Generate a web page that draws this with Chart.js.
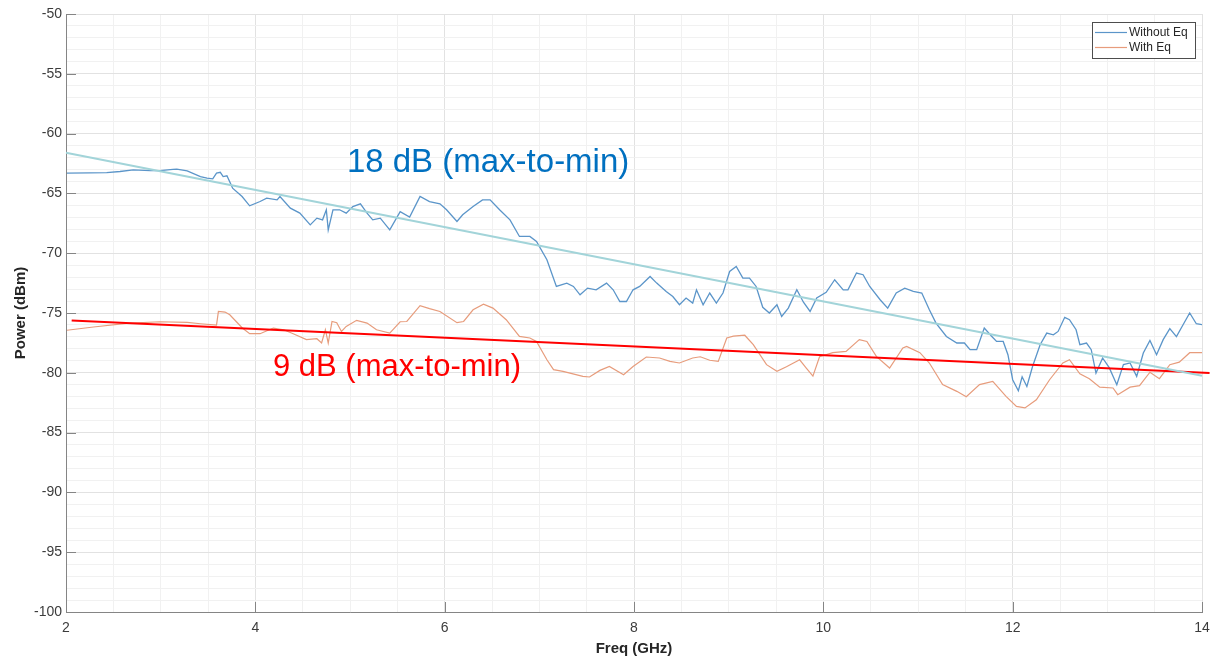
<!DOCTYPE html>
<html>
<head>
<meta charset="utf-8">
<title>Power vs Frequency</title>
<script src="https://cdn.jsdelivr.net/npm/chart.js@4.4.1/dist/chart.umd.min.js"></script>
<style>
  html, body { margin: 0; padding: 0; background: #ffffff; }
  #wrap { width: 1224px; height: 661px; }
</style>
</head>
<body>
<div id="wrap"><canvas id="c" width="1224" height="661"></canvas></div>
<script>
// Measured spectrum without equalization (GHz, dBm)
const freqWithoutEq = [2.01,2.25,2.43,2.57,2.71,2.89,2.99,3.13,3.17,3.28,
  3.42,3.49,3.55,3.59,3.63,3.66,3.70,3.76,3.86,3.94,
  4.05,4.12,4.23,4.26,4.37,4.47,4.58,4.65,4.71,4.75,
  4.77,4.82,4.89,4.96,5.03,5.11,5.18,5.24,5.32,5.42,
  5.53,5.63,5.74,5.84,5.95,6.02,6.13,6.19,6.30,6.40,
  6.48,6.58,6.69,6.79,6.90,6.97,7.08,7.18,7.29,7.36,
  7.43,7.51,7.60,7.71,7.78,7.85,7.92,7.99,8.06,8.17,
  8.24,8.34,8.41,8.48,8.55,8.62,8.66,8.73,8.80,8.87,
  8.94,9.01,9.08,9.15,9.22,9.29,9.36,9.43,9.51,9.56,
  9.63,9.72,9.79,9.86,9.93,10.03,10.12,10.21,10.26,10.35,
  10.42,10.49,10.60,10.68,10.77,10.86,10.95,11.04,11.12,11.19,
  11.30,11.41,11.49,11.55,11.62,11.70,11.78,11.83,11.90,11.95,
  12.00,12.06,12.10,12.15,12.21,12.29,12.36,12.43,12.48,12.55,
  12.60,12.67,12.71,12.78,12.83,12.88,12.95,13.02,13.10,13.17,
  13.24,13.31,13.38,13.45,13.52,13.59,13.66,13.73,13.80,13.87,
  13.94,14.00];
const powerWithoutEq = [-63.31,-63.28,-63.26,-63.17,-63.03,-63.09,-63.09,-62.99,-62.97,-63.12,
  -63.59,-63.73,-63.78,-63.31,-63.24,-63.59,-63.53,-64.56,-65.26,-66.04,
  -65.68,-65.40,-65.54,-65.26,-66.23,-66.65,-67.63,-67.07,-67.21,-66.37,
  -68.05,-66.37,-66.37,-66.65,-66.10,-65.87,-66.65,-67.21,-67.07,-68.05,
  -66.52,-66.98,-65.26,-65.68,-65.87,-66.37,-67.35,-66.79,-66.10,-65.54,
  -65.54,-66.37,-67.21,-68.60,-68.60,-69.02,-70.55,-72.78,-72.50,-72.78,
  -73.48,-72.92,-73.06,-72.50,-73.06,-74.04,-74.04,-73.06,-72.78,-71.95,
  -72.50,-73.20,-73.62,-74.31,-73.75,-74.17,-73.06,-74.31,-73.33,-74.17,
  -73.33,-71.53,-71.11,-72.08,-72.08,-72.78,-74.52,-75.00,-74.31,-75.29,
  -74.59,-73.06,-74.10,-74.87,-73.75,-73.27,-72.22,-73.06,-73.06,-71.66,
  -71.80,-72.78,-73.89,-74.59,-73.33,-72.92,-73.20,-73.33,-74.73,-75.84,
  -76.96,-77.51,-77.51,-78.07,-78.07,-76.26,-76.96,-77.38,-77.38,-78.49,
  -80.58,-81.50,-80.33,-81.14,-79.47,-77.65,-76.68,-76.82,-76.54,-75.36,
  -75.56,-76.40,-77.65,-77.51,-78.07,-80.02,-78.76,-79.57,-80.99,-79.32,
  -79.18,-80.30,-78.35,-77.30,-78.49,-77.23,-76.30,-76.98,-75.98,-75.00,
  -75.90,-75.98];

// Measured spectrum with equalization (GHz, dBm)
const freqWithEq = [2.01,2.29,2.64,2.99,3.28,3.42,3.59,3.61,3.68,3.73,
  3.80,3.86,3.94,4.05,4.19,4.30,4.40,4.54,4.65,4.70,
  4.74,4.77,4.81,4.86,4.91,4.96,5.07,5.18,5.28,5.42,
  5.53,5.60,5.74,5.84,5.95,6.13,6.20,6.30,6.41,6.51,
  6.65,6.79,6.90,6.97,7.08,7.15,7.25,7.46,7.53,7.64,
  7.74,7.89,7.99,8.13,8.27,8.38,8.48,8.62,8.70,8.80,
  8.89,8.98,9.05,9.17,9.26,9.40,9.51,9.61,9.75,9.82,
  9.89,9.96,10.10,10.24,10.38,10.46,10.56,10.70,10.84,10.88,
  11.02,11.12,11.26,11.41,11.51,11.65,11.79,11.93,12.04,12.13,
  12.25,12.39,12.53,12.60,12.71,12.81,12.92,13.06,13.11,13.24,
  13.34,13.45,13.55,13.66,13.76,13.87,14.00];
const powerWithEq = [-76.44,-76.17,-75.86,-75.73,-75.79,-75.90,-76.02,-74.87,-74.92,-75.15,
  -75.73,-76.23,-76.73,-76.73,-76.26,-76.40,-76.73,-77.23,-77.15,-77.51,
  -76.40,-77.51,-75.71,-75.81,-76.54,-76.12,-75.61,-75.84,-76.40,-76.68,
  -75.73,-75.71,-74.39,-74.64,-74.87,-75.81,-75.71,-74.73,-74.27,-74.59,
  -75.56,-76.96,-77.09,-77.38,-78.91,-79.74,-79.88,-80.30,-80.35,-79.80,
  -79.47,-80.16,-79.47,-78.68,-78.76,-79.05,-79.18,-78.76,-78.66,-78.95,
  -79.05,-77.09,-76.94,-76.86,-77.65,-79.32,-79.88,-79.49,-78.91,-79.60,
  -80.28,-78.66,-78.32,-78.21,-77.23,-77.38,-78.63,-79.60,-77.93,-77.79,
  -78.32,-79.18,-80.99,-81.55,-82.00,-80.99,-80.72,-81.97,-82.81,-82.94,
  -82.25,-80.58,-79.18,-78.91,-80.08,-80.49,-81.20,-81.27,-81.83,-81.20,
  -81.08,-79.95,-80.49,-79.32,-79.11,-78.32,-78.32];

// Straight-line slope fits drawn over each trace
const trendWithoutEqFreq = [2.00, 14.00];
const trendWithoutEqPower = [-61.60, -80.25];
const trendWithEqFreq = [2.06, 14.08];
const trendWithEqPower = [-75.62, -80.02];

// Axis tick labels
const freqTicks = [2, 4, 6, 8, 10, 12, 14];
const powerTicks = [-100, -95, -90, -85, -80, -75, -70, -65, -60, -55, -50];

const seriesLabels = ['Without Eq', 'With Eq'];
const spreadLabels = ['18 dB (max-to-min)', '9 dB (max-to-min)'];

const toPoints = (xs, ys) => xs.map((x, i) => ({ x: x, y: ys[i] }));

Chart.defaults.font.family = '"Liberation Sans", Arial, Helvetica, sans-serif';

const MAJOR_GRID = '#e2e2e2';
const MINOR_GRID = '#f1f1f1';
const AXIS_COLOR = '#858585';

// Inward major tick marks on the left and bottom axes
const innerTicks = {
  id: 'innerTicks',
  afterDatasetsDraw(chart) {
    const { ctx, chartArea: a, scales: { x, y } } = chart;
    ctx.save();
    ctx.strokeStyle = AXIS_COLOR;
    ctx.lineWidth = 1;
    ctx.beginPath();
    freqTicks.forEach(v => {
      const px = Math.round(x.getPixelForValue(v)) + 0.5;
      ctx.moveTo(px, a.bottom);
      ctx.lineTo(px, a.bottom - 10);
    });
    powerTicks.forEach(v => {
      const py = Math.round(y.getPixelForValue(v)) + 0.5;
      ctx.moveTo(a.left, py);
      ctx.lineTo(a.left + 10, py);
    });
    ctx.stroke();
    ctx.restore();
  }
};

// Spread annotations, anchored in data coordinates
const spreadNotes = [
  { text: spreadLabels[0], x: 4.967, y: -63.20, color: '#0070C0', size: 33 },
  { text: spreadLabels[1], x: 4.186, y: -80.24, color: '#FF0000', size: 31 }
];
const notesPlugin = {
  id: 'spreadNotes',
  afterDatasetsDraw(chart) {
    const { ctx, scales: { x, y } } = chart;
    ctx.save();
    ctx.textAlign = 'left';
    ctx.textBaseline = 'alphabetic';
    spreadNotes.forEach(n => {
      ctx.font = n.size + 'px "Comic Sans MS", "Liberation Sans", Arial, sans-serif';
      ctx.fillStyle = n.color;
      ctx.fillText(n.text, x.getPixelForValue(n.x), y.getPixelForValue(n.y));
    });
    ctx.restore();
  }
};

// Boxed legend in the upper right corner of the plot
const boxLegend = {
  id: 'boxLegend',
  afterDraw(chart) {
    const { ctx, chartArea: a } = chart;
    const items = chart.data.datasets.filter(d => d.showInBox);
    const w = 103, h = 36;
    const bx = a.right - 110, by = a.top + 8;
    ctx.save();
    ctx.fillStyle = '#ffffff';
    ctx.fillRect(bx, by, w, h);
    ctx.strokeStyle = '#4d4d4d';
    ctx.lineWidth = 1;
    ctx.strokeRect(bx + 0.5, by + 0.5, w, h);
    ctx.font = '12px "Liberation Sans", Arial, sans-serif';
    ctx.textBaseline = 'middle';
    ctx.textAlign = 'left';
    items.forEach((d, i) => {
      const ly = by + 10.5 + i * 15;
      ctx.strokeStyle = d.borderColor;
      ctx.lineWidth = 1.2;
      ctx.beginPath();
      ctx.moveTo(bx + 3, ly);
      ctx.lineTo(bx + 35, ly);
      ctx.stroke();
      ctx.fillStyle = '#262626';
      ctx.fillText(d.label, bx + 37, ly);
    });
    ctx.restore();
  }
};

const gridColor = (majors) => (c) =>
  (c.tick && majors.includes(c.tick.value)) ? MAJOR_GRID : MINOR_GRID;

new Chart(document.getElementById('c').getContext('2d'), {
  type: 'line',
  data: {
    datasets: [
      {
        label: 'Without Eq fit',
        data: toPoints(trendWithoutEqFreq, trendWithoutEqPower),
        borderColor: '#a2d4d9', borderWidth: 2, order: 0, clip: false
      },
      {
        label: 'With Eq fit',
        data: toPoints(trendWithEqFreq, trendWithEqPower),
        borderColor: '#ff0000', borderWidth: 2, order: 0, clip: false
      },
      {
        label: seriesLabels[0], showInBox: true,
        data: toPoints(freqWithoutEq, powerWithoutEq),
        borderColor: '#5b95c9', borderWidth: 1.3, order: 2
      },
      {
        label: seriesLabels[1], showInBox: true,
        data: toPoints(freqWithEq, powerWithEq),
        borderColor: '#e79c7c', borderWidth: 1.2, order: 1
      }
    ]
  },
  options: {
    responsive: false,
    animation: false,
    devicePixelRatio: 1,
    layout: { padding: { left: 0, right: 22, top: 14, bottom: 0 } },
    elements: { point: { radius: 0 }, line: { tension: 0 } },
    plugins: { legend: { display: false }, tooltip: { enabled: false } },
    scales: {
      x: {
        type: 'linear', min: 2, max: 14,
        ticks: {
          stepSize: 0.5, autoSkip: false, maxRotation: 0, padding: 8,
          color: '#3c3c3c', font: { size: 14 },
          callback: v => freqTicks.includes(v) ? String(v) : ''
        },
        grid: { color: gridColor(freqTicks), drawTicks: false, lineWidth: 1 },
        border: { color: AXIS_COLOR, width: 1 },
        title: {
          display: true, text: 'Freq (GHz)', color: '#262626',
          font: { size: 15, weight: 'bold' }, padding: { top: 0, bottom: 3 }
        },
        afterFit: s => { s.height = 49; }
      },
      y: {
        type: 'linear', min: -100, max: -50,
        ticks: {
          stepSize: 1, autoSkip: false, padding: 4,
          color: '#3c3c3c', font: { size: 14 },
          callback: v => powerTicks.includes(v) ? String(v) : ''
        },
        grid: { color: gridColor(powerTicks), drawTicks: false, lineWidth: 1 },
        border: { color: AXIS_COLOR, width: 1 },
        title: {
          display: true, text: 'Power (dBm)', color: '#262626',
          font: { size: 15, weight: 'bold' }, padding: { top: 12, bottom: 0 }
        },
        afterFit: s => { s.width = 66; }
      }
    }
  },
  plugins: [innerTicks, notesPlugin, boxLegend]
});
</script>
</body>
</html>
